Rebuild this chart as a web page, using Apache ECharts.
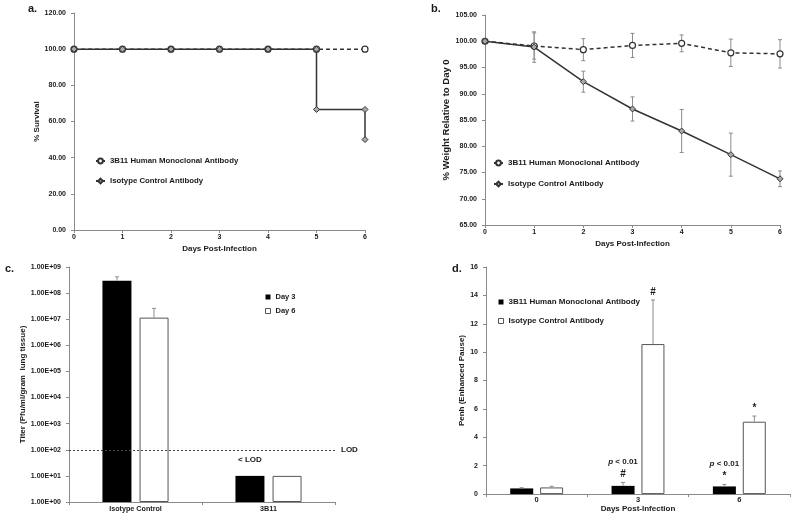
<!DOCTYPE html>
<html>
<head>
<meta charset="utf-8">
<script src="https://cdn.jsdelivr.net/npm/echarts@6/dist/echarts.min.js"></script>
<style>
html, body { margin: 0; padding: 0; background: #fff; }
#main { width: 800px; height: 514px; }
</style>
</head>
<body>
<div id="main"></div>
<script>
// 图例名称
var NAME_3B11 = '3B11 Human Monoclonal Antibody';
var NAME_ISO = 'Isotype Control Antibody';

// a. 存活率
var survDays = [0, 1, 2, 3, 4, 5, 6];
var surv3B11 = [100, 100, 100, 100, 100, 100, 100];
var survIsoDays = [0, 1, 2, 3, 4, 5, 5, 6, 6];
var survIso = [100, 100, 100, 100, 100, 100, 66.67, 66.67, 50];

// b. 体重
var weightDays = [0, 1, 2, 3, 4, 5, 6];
var weight3B11 = [100, 99.1, 98.4, 99.2, 99.6, 97.8, 97.6];
var weight3B11Err = [0, 2.5, 2.1, 2.3, 1.6, 2.6, 2.7];
var weightIso = [100, 98.9, 92.3, 87.1, 82.9, 78.4, 73.8];
var weightIsoErr = [0, 2.9, 2.0, 2.3, 4.1, 4.1, 1.5];

// c. 病毒滴度 (对数轴)
var titerGroups = ['Isotype Control', '3B11'];
var titerDay3 = [3.0e8, 10];
var titerDay3Err = [1.2e8, 0];
var titerDay6 = [1.15e7, 10];
var titerDay6Err = [1.45e7, 0];
var lodValue = 100;
var lodText = 'LOD';
var belowLodText = '< LOD';

// d. Penh
var penhDays = ['0', '3', '6'];
var penh3B11 = [0.40, 0.58, 0.54];
var penh3B11Err = [0.05, 0.24, 0.14];
var penhIso = [0.47, 10.57, 5.10];
var penhIsoErr = [0.08, 3.11, 0.40];
var penh3B11Mark = ['', '#', '*'];
var penh3B11P = ['', 'p < 0.01', 'p < 0.01'];
var penhIsoMark = ['', '#', '*'];

var TXT = '#1a1a1a';
var AXIS = '#8a8a8a';
var LINE = '#333';
var FONT = '"Liberation Sans", Arial, sans-serif';

function labelStyle(size) {
	return { color: TXT, fontSize: size || 7, fontWeight: 'bold', fontFamily: FONT };
}

function valueAxisBase(grid) {
	return {
		gridIndex: grid,
		axisLine: { show: true, lineStyle: { color: AXIS } },
		axisTick: { show: true, length: 3, lineStyle: { color: AXIS } },
		splitLine: { show: false },
		axisLabel: labelStyle(7)
	};
}

// 误差线 (数值型 x 轴)
function lineErrorItem(params, api) {
	var x = api.value(0);
	var lo = api.coord([x, api.value(1)]);
	var hi = api.coord([x, api.value(2)]);
	var cap = 2;
	var st = { stroke: '#8c8c8c', lineWidth: 1 };
	return {
		type: 'group',
		children: [
			{ type: 'line', shape: { x1: lo[0], y1: lo[1], x2: hi[0], y2: hi[1] }, style: st },
			{ type: 'line', shape: { x1: hi[0] - cap, y1: hi[1], x2: hi[0] + cap, y2: hi[1] }, style: st },
			{ type: 'line', shape: { x1: lo[0] - cap, y1: lo[1], x2: lo[0] + cap, y2: lo[1] }, style: st }
		]
	};
}

// 柱状图误差线 (向上), 附带注释文字
function barErrorRenderer(offset, marks, pTexts) {
	return function(params, api) {
		var idx = params.dataIndex;
		var base = api.coord([api.value(0), api.value(1)]);
		var top = api.coord([api.value(0), api.value(2)]);
		var x = base[0] + offset;
		var st = { stroke: '#8c8c8c', lineWidth: 1 };
		var children = [];
		if (api.value(2) > api.value(1)) {
			children.push({ type: 'line', shape: { x1: x, y1: base[1], x2: x, y2: top[1] }, style: st });
			children.push({ type: 'line', shape: { x1: x - 2, y1: top[1], x2: x + 2, y2: top[1] }, style: st });
		}
		if (marks && marks[idx]) {
			children.push({
				type: 'text',
				style: {
					x: x, y: top[1] - 3, text: marks[idx], align: 'center', verticalAlign: 'bottom',
					fill: TXT, font: 'bold 10px ' + FONT
				}
			});
		}
		if (pTexts && pTexts[idx]) {
			var t = pTexts[idx];
			children.push({
				type: 'text',
				style: {
					x: x, y: top[1] - 17, text: '{i|' + t.charAt(0) + '}' + t.slice(1),
					align: 'center', verticalAlign: 'bottom',
					fill: TXT, font: 'bold 8px ' + FONT,
					rich: { i: { fontStyle: 'italic', fontWeight: 'bold', fontSize: 8, fontFamily: FONT, fill: TXT } }
				}
			});
		}
		return { type: 'group', children: children };
	};
}

function zip(xs, ys) {
	return xs.map(function(x, i) { return [x, ys[i]]; });
}

function errRange(xs, ys, es) {
	return xs.map(function(x, i) { return [x, ys[i] - es[i], ys[i] + es[i]]; });
}

function barErr(cats, ys, es) {
	return cats.map(function(c, i) { return [c, ys[i], ys[i] + es[i]]; });
}

var myChart = echarts.init(document.getElementById('main'));

var option = {
	backgroundColor: '#fff',
	animation: false,
	textStyle: { fontFamily: FONT },
	title: [
		{ text: 'a.', left: 23, top: -2, textStyle: { fontSize: 11, fontWeight: 'bold', color: TXT } },
		{ text: 'b.', left: 426, top: -2, textStyle: { fontSize: 11, fontWeight: 'bold', color: TXT } },
		{ text: 'c.', left: 0, top: 258, textStyle: { fontSize: 11, fontWeight: 'bold', color: TXT } },
		{ text: 'd.', left: 447, top: 258, textStyle: { fontSize: 11, fontWeight: 'bold', color: TXT } }
	],
	legend: [
		{
			data: [NAME_3B11, NAME_ISO], orient: 'vertical', left: 95, top: 157, itemGap: 12, padding: 0,
			itemWidth: 9, itemHeight: 6, textStyle: labelStyle(7.8), selectedMode: false
		},
		{
			data: [NAME_3B11, NAME_ISO], orient: 'vertical', left: 493, top: 159, itemGap: 13, padding: 0,
			itemWidth: 9, itemHeight: 6, textStyle: labelStyle(8), selectedMode: false
		},
		{
			data: [
				{ name: 'Day 3', icon: 'rect', itemStyle: { color: '#000' } },
				{ name: 'Day 6', icon: 'rect', itemStyle: { color: '#fff', borderColor: '#555', borderWidth: 1 } }
			],
			orient: 'vertical', left: 265, top: 293, itemGap: 6, padding: 0,
			itemWidth: 5, itemHeight: 5, textStyle: labelStyle(7.5), selectedMode: false
		},
		{
			data: [
				{ name: NAME_3B11, icon: 'rect', itemStyle: { color: '#000', borderWidth: 0 } },
				{ name: NAME_ISO, icon: 'rect', itemStyle: { color: '#fff', borderColor: '#555', borderWidth: 1 } }
			],
			orient: 'vertical', left: 498, top: 298, itemGap: 11, padding: 0,
			itemWidth: 5, itemHeight: 5, textStyle: labelStyle(8), selectedMode: false
		}
	],
	grid: [
		{ left: 74, top: 13, width: 291, height: 217 },
		{ left: 485, top: 15, width: 295, height: 210 },
		{ left: 69, top: 267, width: 266, height: 235 },
		{ left: 486, top: 267, width: 304, height: 228 }
	],
	xAxis: [
		Object.assign(valueAxisBase(0), {
			type: 'value', min: 0, max: 6, interval: 1,
			name: 'Days Post-Infection', nameLocation: 'middle', nameGap: 15,
			nameTextStyle: labelStyle(8), axisLabel: Object.assign(labelStyle(7), { margin: 4 })
		}),
		Object.assign(valueAxisBase(1), {
			type: 'value', min: 0, max: 6, interval: 1,
			name: 'Days Post-Infection', nameLocation: 'middle', nameGap: 15,
			nameTextStyle: labelStyle(8), axisLabel: Object.assign(labelStyle(7), { margin: 4 })
		}),
		{
			type: 'category', gridIndex: 2, data: titerGroups,
			axisLine: { lineStyle: { color: AXIS } },
			axisTick: { show: true, length: 3, lineStyle: { color: AXIS } },
			axisLabel: Object.assign(labelStyle(7.2), { margin: 4 })
		},
		{
			type: 'category', gridIndex: 3, data: penhDays,
			name: 'Days Post-Infection', nameLocation: 'middle', nameGap: 9,
			nameTextStyle: labelStyle(8),
			axisLine: { lineStyle: { color: AXIS } },
			axisTick: { show: true, length: 3, lineStyle: { color: AXIS } },
			axisLabel: Object.assign(labelStyle(7.5), { margin: 2 })
		}
	],
	yAxis: [
		Object.assign(valueAxisBase(0), {
			type: 'value', min: 0, max: 120, interval: 20,
			name: '% Survival', nameLocation: 'middle', nameGap: 24, nameTextStyle: labelStyle(8),
			axisLabel: Object.assign(labelStyle(7), { formatter: function(v) { return v.toFixed(2); } })
		}),
		Object.assign(valueAxisBase(1), {
			type: 'value', min: 65, max: 105, interval: 5,
			name: '% Weight Relative to Day 0', nameLocation: 'middle', nameGap: 25, nameTextStyle: labelStyle(9.5),
			axisLabel: Object.assign(labelStyle(7), { formatter: function(v) { return v.toFixed(2); } })
		}),
		Object.assign(valueAxisBase(2), {
			type: 'log', logBase: 10, min: 1, max: 1e9, interval: 1, splitNumber: 9,
			name: 'Titer (Pfu/ml/gram  lung tissue)', nameLocation: 'middle', nameGap: 37, nameTextStyle: labelStyle(8),
			axisLabel: Object.assign(labelStyle(7), {
				formatter: function(v) {
					return v.toExponential(2).toUpperCase().replace(/E\+(\d)$/, 'E+0$1');
				}
			})
		}),
		Object.assign(valueAxisBase(3), {
			type: 'value', min: 0, max: 16, interval: 2,
			name: 'Penh (Enhanced Pause)', nameLocation: 'middle', nameGap: 20, nameTextStyle: labelStyle(8)
		})
	],
	series: [
		// a.
		{
			name: NAME_3B11, type: 'line', xAxisIndex: 0, yAxisIndex: 0,
			data: zip(survDays, surv3B11),
			symbol: 'circle', symbolSize: 6,
			itemStyle: { color: '#fff', borderColor: LINE, borderWidth: 1.2 },
			lineStyle: { color: LINE, width: 1.5, type: [4, 3] }, z: 2
		},
		{
			name: NAME_ISO, type: 'line', xAxisIndex: 0, yAxisIndex: 0,
			data: zip(survIsoDays, survIso),
			symbol: 'diamond', symbolSize: 6,
			itemStyle: { color: '#aaa', borderColor: LINE, borderWidth: 1 },
			lineStyle: { color: LINE, width: 1.5 }, z: 3
		},
		// b.
		{
			type: 'custom', xAxisIndex: 1, yAxisIndex: 1, renderItem: lineErrorItem,
			data: errRange(weightDays, weight3B11, weight3B11Err), z: 1
		},
		{
			type: 'custom', xAxisIndex: 1, yAxisIndex: 1, renderItem: lineErrorItem,
			data: errRange(weightDays, weightIso, weightIsoErr), z: 1
		},
		{
			name: NAME_3B11, type: 'line', xAxisIndex: 1, yAxisIndex: 1,
			data: zip(weightDays, weight3B11),
			symbol: 'circle', symbolSize: 6,
			itemStyle: { color: '#fff', borderColor: LINE, borderWidth: 1.2 },
			lineStyle: { color: LINE, width: 1.5, type: [4, 3] }, z: 2
		},
		{
			name: NAME_ISO, type: 'line', xAxisIndex: 1, yAxisIndex: 1,
			data: zip(weightDays, weightIso),
			symbol: 'diamond', symbolSize: 6,
			itemStyle: { color: '#aaa', borderColor: LINE, borderWidth: 1 },
			lineStyle: { color: LINE, width: 1.5 }, z: 3
		},
		// c.
		{
			name: 'Day 3', type: 'bar', xAxisIndex: 2, yAxisIndex: 2,
			data: titerDay3, barWidth: 29, barGap: '28%',
			itemStyle: { color: '#000' },
			markLine: {
				silent: true, symbol: 'none',
				lineStyle: { color: '#444', width: 1, type: [2, 2] },
				label: { position: 'end', formatter: lodText, color: TXT, fontSize: 8, fontWeight: 'bold', distance: 6 },
				data: [{ yAxis: lodValue }]
			},
			markPoint: {
				symbol: 'circle', symbolSize: 0,
				label: { show: true, formatter: belowLodText, color: TXT, fontSize: 8, fontWeight: 'bold', offset: [0, -16] },
				data: [{ coord: [titerGroups[1], titerDay3[1]] }]
			}
		},
		{
			name: 'Day 6', type: 'bar', xAxisIndex: 2, yAxisIndex: 2,
			data: titerDay6, barWidth: 29, barGap: '28%',
			itemStyle: { color: '#fff', borderColor: '#555', borderWidth: 1 }
		},
		{
			type: 'custom', xAxisIndex: 2, yAxisIndex: 2, z: 5,
			renderItem: barErrorRenderer(-18.5),
			data: barErr(titerGroups, titerDay3, titerDay3Err)
		},
		{
			type: 'custom', xAxisIndex: 2, yAxisIndex: 2, z: 5,
			renderItem: barErrorRenderer(18.5),
			data: barErr(titerGroups, titerDay6, titerDay6Err)
		},
		// d.
		{
			name: NAME_3B11, type: 'bar', xAxisIndex: 3, yAxisIndex: 3,
			data: penh3B11, barWidth: 23, barGap: '30%',
			itemStyle: { color: '#000' }
		},
		{
			name: NAME_ISO, type: 'bar', xAxisIndex: 3, yAxisIndex: 3,
			data: penhIso, barWidth: 23, barGap: '30%',
			itemStyle: { color: '#fff', borderColor: '#555', borderWidth: 1 }
		},
		{
			type: 'custom', xAxisIndex: 3, yAxisIndex: 3, z: 5,
			renderItem: barErrorRenderer(-15, penh3B11Mark, penh3B11P),
			data: barErr(penhDays, penh3B11, penh3B11Err)
		},
		{
			type: 'custom', xAxisIndex: 3, yAxisIndex: 3, z: 5,
			renderItem: barErrorRenderer(15, penhIsoMark),
			data: barErr(penhDays, penhIso, penhIsoErr)
		}
	]
};

myChart.setOption(option);
</script>
</body>
</html>
